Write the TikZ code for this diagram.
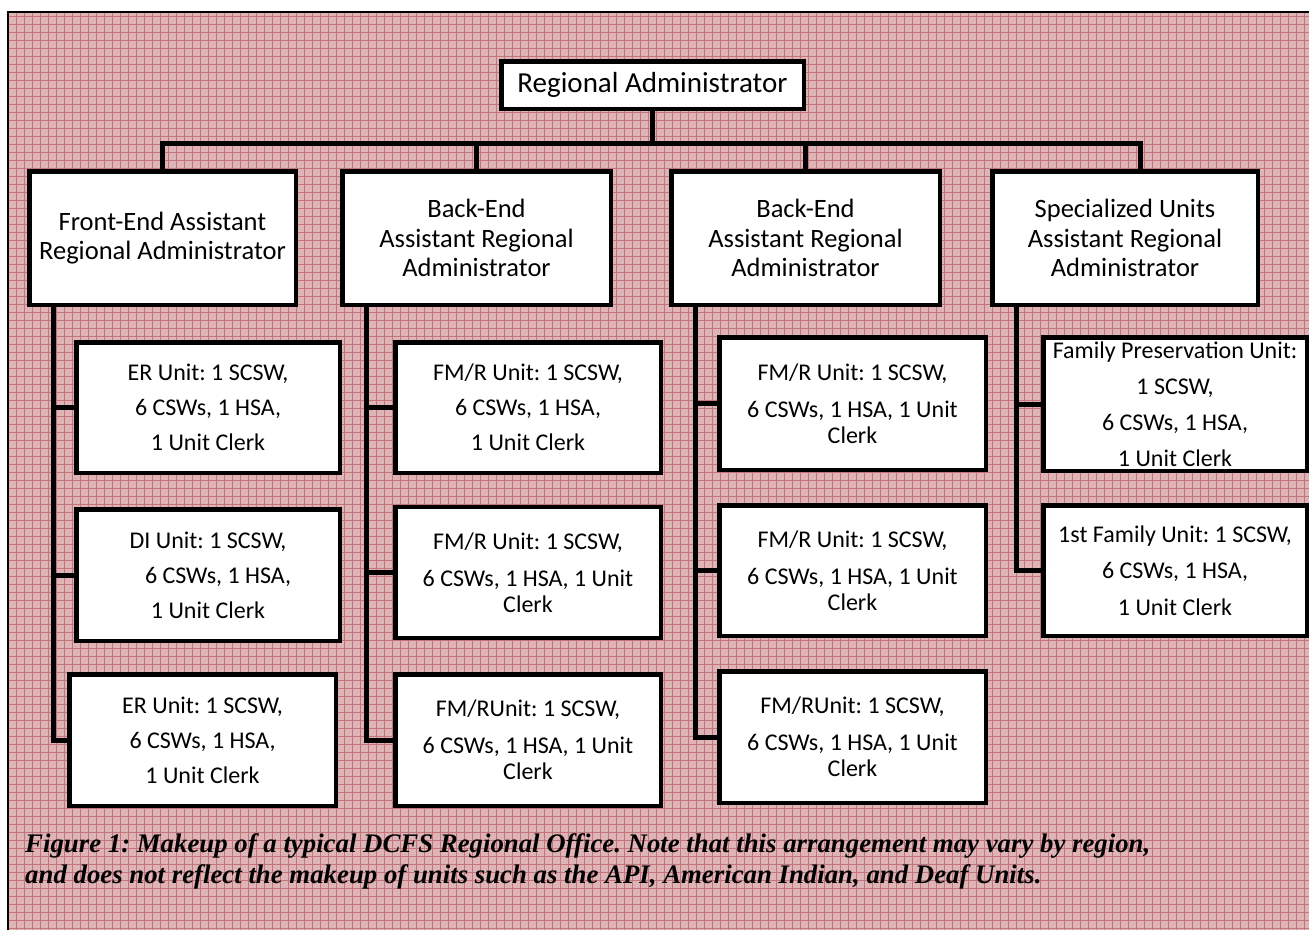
\documentclass[tikz,border=0pt]{standalone}
\usepackage{fontspec}
\setmainfont{Carlito}
\newfontfamily\captionfont{Liberation Serif}
\frenchspacing

\definecolor{paper}{RGB}{222,180,182}
\definecolor{weave}{RGB}{196,116,124}

\tikzset{
    chief/.style = {draw, line width = 4.5pt, fill = white, inner sep = 0pt,
        minimum width = 302.5pt, minimum height = 47.5pt,
        font = \fontsize{29}{32}\selectfont},
    arabox/.style = {draw, line width = 4.5pt, fill = white, inner sep = 0pt,
        minimum width = 268.5pt, minimum height = 133.5pt, align = center,
        font = \fontsize{26.5}{29.5}\selectfont},
    unitbox/.style = {draw, line width = 4.5pt, fill = white, inner sep = 0pt,
        minimum width = 265.5pt, minimum height = 131pt, align = center,
        font = \fontsize{24}{35}\selectfont},
    wrapbox/.style = {unitbox, font = \fontsize{24}{26}\selectfont},
    link/.style = {line width = 5pt},
    figcaption/.style = {anchor = base west, inner sep = 0pt,
        font = \captionfont\bfseries\itshape\fontsize{26.8}{30}\selectfont}
}

\begin{document}
\begin{tikzpicture}[x = 1pt, y = -1pt]
    \useasboundingbox (0, 0) rectangle (1309, 930);

% The page is white, the frame is filled with the pink weave.
    \fill [white] (0, 0) rectangle (1309, 930);
    \fill [paper] (8, 12) rectangle (1309, 930);
    \draw [step = 8pt, weave, line width = 1pt] (8, 930) grid (1309, 12);
    \draw [line width = 2.5pt] (8, 930) -- (8, 12) -- (1309, 12);

% Top of the chart and the four assistant administrators.
    \node [chief] (ra) at (652.5, 85) {Regional Administrator};

    \node [arabox, minimum width = 266.5pt] (fe) at (162.5, 238) {Front-End Assistant\\Regional Administrator};
    \node [arabox] (be1) at (476.5, 238) {Back-End\\Assistant Regional\\Administrator};
    \node [arabox] (be2) at (805.5, 238) {Back-End\\Assistant Regional\\Administrator};
    \node [arabox, minimum width = 265.5pt] (su) at (1125, 238) {Specialized Units\\Assistant Regional\\Administrator};

% The units under each of them.
    \node [unitbox, minimum width = 263.5pt, minimum height = 130.5pt] (er1) at (208, 407.5) {ER Unit: 1 SCSW,\\6 CSWs, 1 HSA,\\1 Unit Clerk};
    \node [unitbox, minimum width = 263.5pt, minimum height = 131.5pt] (di) at (208, 575) {DI Unit: 1 SCSW,\\\hspace*{20pt}6 CSWs, 1 HSA,\\1 Unit Clerk};
    \node [unitbox, minimum width = 266.5pt, minimum height = 131.5pt] (er2) at (202.5, 740) {ER Unit: 1 SCSW,\\6 CSWs, 1 HSA,\\1 Unit Clerk};

    \node [wrapbox, minimum height = 130.5pt] (fm1) at (528, 407.5) {FM/R Unit: 1 SCSW,\\[9pt]6 CSWs, 1 HSA,\\[9pt]1 Unit Clerk};
    \node [wrapbox] (fm2) at (528, 572.5) {FM/R Unit: 1 SCSW,\\[11pt]6 CSWs, 1 HSA, 1 Unit\\Clerk};
    \node [wrapbox, minimum height = 131.5pt] (fm3) at (528, 740) {FM/RUnit: 1 SCSW,\\[11pt]6 CSWs, 1 HSA, 1 Unit\\Clerk};

    \node [wrapbox, minimum width = 266.5pt, minimum height = 132.5pt] (fm4) at (852.5, 403.5) {FM/R Unit: 1 SCSW,\\[11pt]6 CSWs, 1 HSA, 1 Unit\\Clerk};
    \node [wrapbox, minimum width = 266.5pt, minimum height = 130.5pt] (fm5) at (852.5, 570.5) {FM/R Unit: 1 SCSW,\\[11pt]6 CSWs, 1 HSA, 1 Unit\\Clerk};
    \node [wrapbox, minimum width = 266.5pt, minimum height = 131.5pt] (fm6) at (852.5, 737) {FM/RUnit: 1 SCSW,\\[11pt]6 CSWs, 1 HSA, 1 Unit\\Clerk};

    \node [unitbox, minimum width = 263.5pt, minimum height = 133.5pt, font = \fontsize{24}{36}\selectfont] (fp) at (1175, 404) {Family Preservation Unit:\\1 SCSW,\\6 CSWs, 1 HSA,\\1 Unit Clerk};
    \node [unitbox, minimum width = 263.5pt, minimum height = 130.5pt, font = \fontsize{24}{36.5}\selectfont] (ff) at (1175, 570.5) {1st Family Unit: 1 SCSW,\\6 CSWs, 1 HSA,\\1 Unit Clerk};

% Connectors: the bus under the top box, then one spine per column.
    \coordinate (bus) at (652.5, 143);
    \coordinate (su-drop) at ([xshift = 15pt] su.north);
    \draw [link] (ra.south) -- (bus);
    \draw [link] (fe.north) |- (bus) -| (su-drop);
    \draw [link] (be1.north) -- (be1.north |- bus);
    \draw [link] (be2.north) -- (be2.north |- bus);

    \foreach \col/\last in {fe/er2, be1/fm3, be2/fm6, su/ff} {
        \coordinate (\col-spine) at ([xshift = 26.5pt] \col.south west);
        \draw [link] (\col-spine) |- (\last.west);
    }
    \foreach \col/\unit in {fe/er1, fe/di, be1/fm1, be1/fm2, be2/fm4, be2/fm5, su/fp}
        \draw [link] (\unit.west) -- (\unit.west -| \col-spine);

% Caption under the chart.
    \node [figcaption] (cap1) at (25, 852)
        {Figure 1: Makeup of a typical DCFS Regional Office. Note that this arrangement may vary by region,};
    \node [figcaption] (cap2) at (25, 883)
        {and does not reflect the makeup of units such as the API, American Indian, and Deaf Units.};
\end{tikzpicture}
\end{document}
